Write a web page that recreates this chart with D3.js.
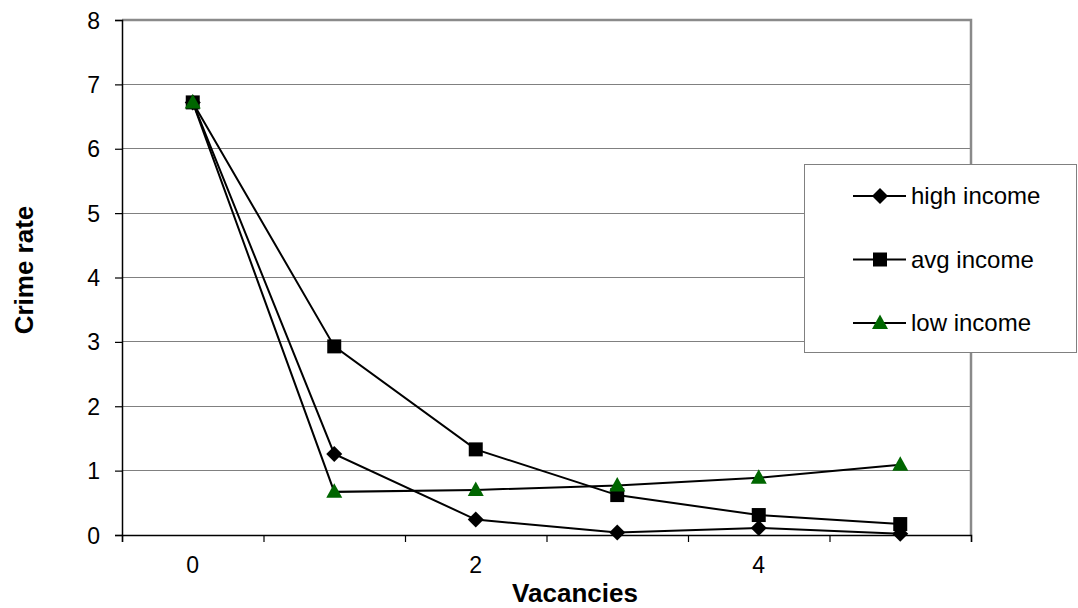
<!DOCTYPE html>
<html>
<head>
<meta charset="utf-8">
<script src="https://cdn.jsdelivr.net/npm/d3@7"></script>
<style>
  html, body { margin: 0; padding: 0; background: #fff; }
  svg { display: block; font-family: "Liberation Sans", Arial, sans-serif; }
</style>
</head>
<body>
<svg id="chart" width="1078" height="608"></svg>
<script>
// ---- data ----
const categories = ["0", "1", "2", "3", "4", "5"];
const xTickLabels = ["0", "2", "4"];
const yTicks = [0, 1, 2, 3, 4, 5, 6, 7, 8];
const seriesNames = ["high income", "avg income", "low income"];
const highIncome = [6.72, 1.26, 0.24, 0.04, 0.11, 0.02];
const avgIncome  = [6.72, 2.93, 1.33, 0.62, 0.31, 0.17];
const lowIncome  = [6.72, 0.67, 0.70, 0.77, 0.89, 1.09];
const xTitle = "Vacancies";
const yTitle = "Crime rate";

const series = [
  { name: seriesNames[0], values: highIncome, marker: "diamond", fill: "#000000" },
  { name: seriesNames[1], values: avgIncome,  marker: "square",  fill: "#000000" },
  { name: seriesNames[2], values: lowIncome,  marker: "triangle", fill: "#006600" }
];

const svg = d3.select("#chart");
const pLeft = 122, pRight = 971, pTop = 20, pBottom = 535;

const x = d3.scaleBand().domain(categories).range([pLeft, pRight]).padding(0);
const xc = c => x(c) + x.bandwidth() / 2;
const xEdge = d3.scaleLinear().domain([0, categories.length]).range([pLeft, pRight]);
const y = d3.scaleLinear().domain([0, 8]).range([pBottom, pTop]);

// gridlines
svg.append("g").selectAll("line").data(yTicks.filter(t => t > 0 && t < 8)).join("line")
  .attr("x1", pLeft).attr("x2", pRight)
  .attr("y1", d => y(d)).attr("y2", d => y(d))
  .attr("stroke", "#808080").attr("stroke-width", 1).attr("shape-rendering", "crispEdges");

// plot area top / right border
svg.append("path")
  .attr("d", `M${pLeft},${y(8)}H${pRight}V${pBottom}`)
  .attr("fill", "none").attr("stroke", "#8a8a8a").attr("stroke-width", 2.5);

// y axis
const yAxis = svg.append("g").attr("transform", `translate(${pLeft},0)`)
  .call(d3.axisLeft(y).tickValues(yTicks).tickSize(7).tickPadding(15).tickFormat(d3.format("d")));
yAxis.select(".domain").attr("stroke", "#000").attr("stroke-width", 1.5);
yAxis.selectAll(".tick line").attr("stroke", "#000").attr("stroke-width", 1.2);
yAxis.selectAll(".tick text").attr("font-size", 23).attr("font-family", "Liberation Sans, Arial, sans-serif").attr("fill", "#000").attr("dy", "0.35em");

// x axis tick marks (between categories)
const xAxisTicks = svg.append("g").attr("transform", `translate(0,${pBottom})`)
  .call(d3.axisBottom(xEdge).tickValues(d3.range(categories.length + 1)).tickSize(7).tickFormat(""));
xAxisTicks.select(".domain").attr("stroke", "#000").attr("stroke-width", 1.5);
xAxisTicks.selectAll(".tick line").attr("stroke", "#000").attr("stroke-width", 1.2);

// x labels
const xAxisLabels = svg.append("g").attr("transform", `translate(0,${pBottom})`)
  .call(d3.axisBottom(x).tickValues(xTickLabels).tickSize(0).tickPadding(22));
xAxisLabels.select(".domain").remove();
xAxisLabels.selectAll(".tick text").attr("font-size", 23).attr("font-family", "Liberation Sans, Arial, sans-serif").attr("fill", "#000");

// axis titles
svg.append("text").attr("x", 575).attr("y", 602).attr("text-anchor", "middle")
  .attr("font-size", 26).attr("font-weight", "bold").text(xTitle);
svg.append("text").attr("transform", "translate(33,270) rotate(-90)").attr("text-anchor", "middle")
  .attr("font-size", 26).attr("font-weight", "bold").text(yTitle);

// markers
function drawMarker(g, type, fill, cx, cy) {
  let d;
  if (type === "diamond") d = "M0,-8L8,0L0,8L-8,0Z";
  else if (type === "square") d = "M-7,-7H7V7H-7Z";
  else d = "M0,-8.5L8,6L-8,6Z";
  g.append("path").attr("d", d).attr("transform", `translate(${cx},${cy})`).attr("fill", fill);
}

const line = d3.line().x((d, i) => xc(categories[i])).y(d => y(d));
series.forEach(s => {
  const g = svg.append("g");
  g.append("path").attr("d", line(s.values)).attr("fill", "none").attr("stroke", "#000").attr("stroke-width", 2);
  s.values.forEach((v, i) => drawMarker(g, s.marker, s.fill, xc(categories[i]), y(v)));
});

// legend
const lg = svg.append("g");
lg.append("rect").attr("x", 804.5).attr("y", 164.5).attr("width", 272).attr("height", 188)
  .attr("fill", "#fff").attr("stroke", "#808080").attr("stroke-width", 1);
const legendY = d3.scalePoint().domain(seriesNames).range([196, 323]);
series.forEach(s => {
  const yy = legendY(s.name);
  lg.append("line").attr("x1", 853).attr("x2", 906).attr("y1", yy).attr("y2", yy).attr("stroke", "#000").attr("stroke-width", 2);
  drawMarker(lg, s.marker, s.fill, 880, yy);
  lg.append("text").attr("x", 911).attr("y", yy).attr("dy", "0.35em").attr("font-size", 24).text(s.name);
});
</script>
</body>
</html>
